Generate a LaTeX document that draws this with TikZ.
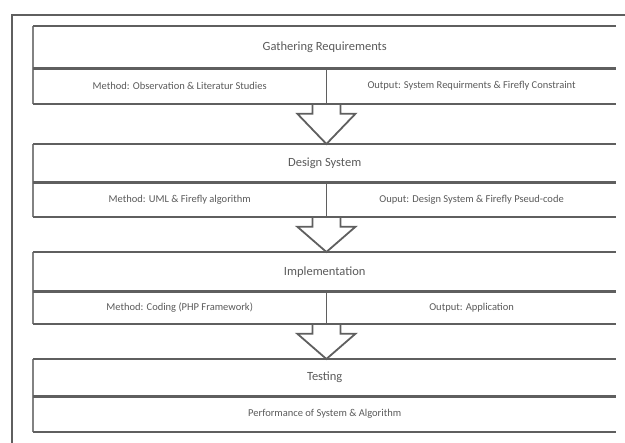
\documentclass[tikz,border=0pt]{standalone}
\usepackage{fontspec}
\setmainfont{Carlito}
\usetikzlibrary{positioning, calc}
\definecolor{rule}{RGB}{95,95,95}
\definecolor{edge}{RGB}{130,130,130}
\definecolor{label}{RGB}{90,90,90}

% outline of one phase: title row plus its method/output row
\newcommand\phaselines[2]{%
  \draw[vline] (#1.north west) -- (#2.south west);
  \draw[hline] (#1.north west) -- (#1.north east);
  \draw[hline] (#1.south west) -- (#1.south east);
  \draw[hline] (#2.south west) -- (#2.south west -| #1.east);
}
% hollow block arrow from the bottom of one phase to the next
\newcommand\phasearrow[2]{%
  \draw[flow] ($(#1.south east)+(-14,0)$) -- ($(#1.south east)+(-14,10)$)
    -- ($(#1.south east)+(-29,10)$) -- (#1.south east |- #2.north)
    -- ($(#1.south east)+(29,10)$) -- ($(#1.south east)+(14,10)$)
    -- ($(#1.south east)+(14,0)$);
}

\begin{document}
\begin{tikzpicture}[
    x=1pt, y=-1pt,
    phase/.style={rectangle, inner sep=0pt, anchor=north west,
                  minimum width=583pt, font=\fontsize{12.5}{14}\selectfont, text=label},
    cell/.style={rectangle, inner sep=0pt, anchor=north west,
                 font=\fontsize{10.5}{12}\selectfont, text=label},
    hline/.style={rule, line width=2.3pt},
    vline/.style={edge, line width=1.1pt},
    flow/.style={rule, line width=1.8pt, fill=white, line join=miter}
]
\useasboundingbox (0,0) rectangle (625,443);

% outer frame
\draw[rule, line width=2.4pt] (12,443) -- (12,15) -- (625,15);

% Phases
\node[phase, minimum height=42pt] (gather) at (33,26) {Gathering Requirements};
\node[cell, minimum width=293pt, minimum height=35pt] (gatherM) at (gather.south west)
  {Method: Observation \& Literatur Studies};
\node[cell, minimum width=290pt, minimum height=35pt] (gatherO) at (gatherM.north east)
  {Output: System Requirments \& Firefly Constraint};

\node[phase, minimum height=38pt] (design) at (33,144) {Design System};
\node[cell, minimum width=293pt, minimum height=34pt] (designM) at (design.south west)
  {Method: UML \& Firefly algorithm};
\node[cell, minimum width=290pt, minimum height=34pt] (designO) at (designM.north east)
  {Ouput: Design System \& Firefly Pseud-code};

\node[phase, minimum height=39pt] (impl) at (33,252) {Implementation};
\node[cell, minimum width=293pt, minimum height=32pt] (implM) at (impl.south west)
  {Method: Coding (PHP Framework)};
\node[cell, minimum width=290pt, minimum height=32pt] (implO) at (implM.north east)
  {Output: Application};

\node[phase, minimum height=37pt] (test) at (33,359) {Testing};
\node[cell, minimum width=583pt, minimum height=35pt] (testR) at (test.south west)
  {Performance of System \& Algorithm};

% Arrows
\phasearrow{gatherM}{design}
\phasearrow{designM}{impl}
\phasearrow{implM}{test}

% Lines
\phaselines{gather}{gatherM}
\phaselines{design}{designM}
\phaselines{impl}{implM}
\phaselines{test}{testR}
\draw[vline, rule] (gatherM.north east) -- (gatherM.south east);
\draw[vline, rule] (designM.north east) -- (designM.south east);
\draw[vline, rule] (implM.north east) -- (implM.south east);

\end{tikzpicture}
\end{document}
